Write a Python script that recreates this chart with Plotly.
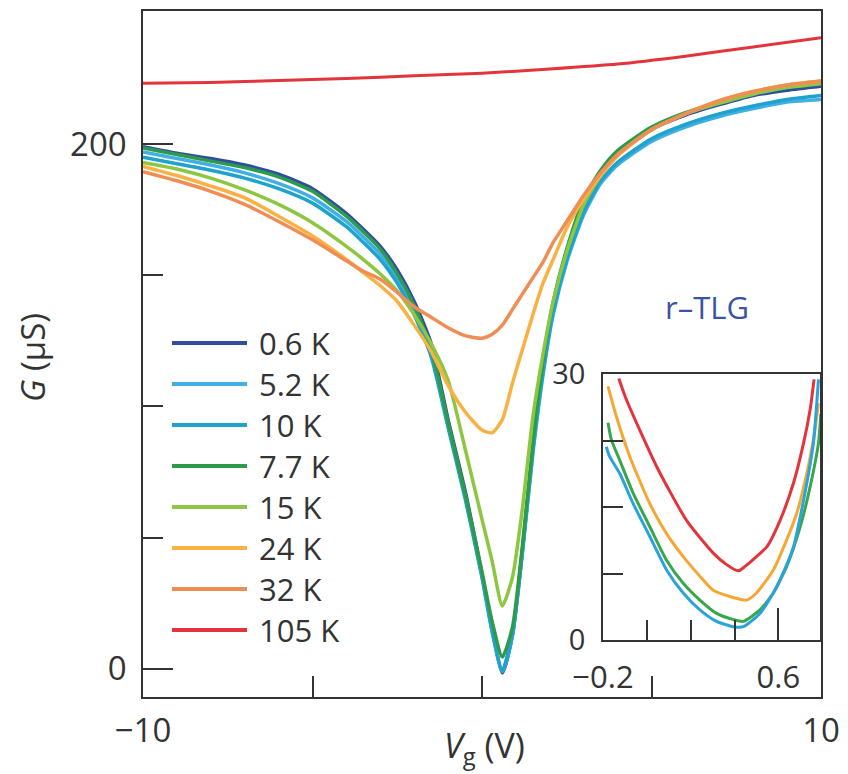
import plotly.graph_objects as go

# ---------------- data ----------------
V = [-10, -9, -8, -7, -6, -5, -4, -3.5, -3, -2.5, -2, -1.5, -1, -0.5, 0, 0.3, 0.6,
     0.9, 1.2, 1.5, 1.8, 2.1, 2.5, 3, 3.5, 4, 5, 6, 7, 8, 9, 10]

G_0p6 = [199, 196.5, 194.5, 192, 188.5, 183, 173.5, 167.5, 161, 152, 140, 124, 95, 68, 36, 15, -1.5,
         13, 46, 84, 115, 138, 158, 177, 188, 196, 205.5, 211, 215, 218.5, 220.5, 222]
G_5p2 = [197, 194.5, 192, 189, 185, 179.5, 170.5, 164.5, 158, 149, 137, 121, 93, 66, 35, 14, -1,
         13, 45, 82, 112, 135, 155, 173, 185, 192, 201, 206.5, 210.5, 213.5, 216, 217]
G_10 = [195, 192.5, 190, 187, 183, 177.5, 168.5, 162.5, 156, 147, 135, 119, 92, 65, 35, 14.5, -0.5,
        13.5, 46, 83, 113, 136, 156, 174, 186, 193, 202, 207.5, 211.5, 214.5, 217, 218.5]
G_7p7 = [198.5, 196, 193.5, 191, 187.5, 182, 172.5, 166.5, 160, 150.5, 138.5, 122, 94, 67, 37, 18, 4.5,
         16, 48, 86, 117, 140, 160, 179, 190, 197.5, 206.5, 212, 216, 219.5, 222, 223.5]
G_15 = [193, 190.5, 187, 182.5, 177, 170, 161, 156, 150.5, 144, 135, 124, 110, 84, 57, 41, 24,
        35, 62, 96, 120, 140, 159, 177, 188, 196, 205.5, 211.5, 215.5, 219, 221.5, 223]
G_24 = [191.5, 188, 184, 179.5, 172.5, 165, 156, 151, 146, 140, 131, 121, 108, 98, 91, 90, 95,
        109, 122, 135, 147, 156, 168, 179, 188, 195.5, 205.5, 211.5, 216.5, 220, 222.5, 224]
G_32 = [189.5, 186, 182, 177, 170.5, 163.5, 155.5, 151.5, 148.5, 143.5, 138, 134, 130, 127, 126, 127.5, 131,
        137, 143, 149, 155, 162.5, 170.5, 180.5, 189, 196, 205.5, 211.5, 216.5, 220, 222.5, 224]

V_105 = [-10, -8, -6, -4, -2, 0, 2, 4, 6, 8, 10]
G_105 = [223.2, 223.5, 224.2, 225, 226, 227, 228.6, 230.5, 233.5, 237, 240.5]

labels = ["0.6 K", "5.2 K", "10 K", "7.7 K", "15 K", "24 K", "32 K", "105 K"]
colors = ["#2f4ea0", "#3fb0e6", "#1fa3cc", "#2e9b4b", "#8dc641", "#f9b143", "#f08d55", "#e3343b"]

# inset (Vg in V, G in uS)
IN_RED_V = [-0.128, -0.093, 0.044, 0.181, 0.303, 0.364, 0.417, 0.448, 0.50, 0.547, 0.608, 0.669, 0.715, 0.745, 0.763]
IN_RED_G = [29.5, 27.1, 19.6, 13.5, 9.8, 8.5, 7.8, 8.3, 9.4, 10.5, 13.5, 17.7, 22.2, 26.0, 29.4]
IN_ORA_V = [-0.177, -0.139, -0.078, 0.013, 0.09, 0.166, 0.242, 0.303, 0.379, 0.455, 0.50, 0.577, 0.638, 0.684, 0.73, 0.76, 0.783]
IN_ORA_G = [28.6, 25.2, 20.7, 15.4, 12.0, 9.4, 7.2, 5.6, 4.9, 4.5, 5.3, 7.9, 11.3, 14.3, 18.8, 22.6, 26.7]
IN_GRN_V = [-0.177, -0.162, -0.124, -0.063, 0.013, 0.09, 0.166, 0.242, 0.318, 0.395, 0.44, 0.516, 0.577, 0.638, 0.70, 0.745, 0.783, 0.794]
IN_GRN_G = [24.5, 22.6, 20.3, 16.6, 12.8, 9.0, 6.4, 4.5, 3.0, 2.3, 2.1, 3.4, 5.3, 8.3, 12.8, 17.3, 22.2, 25.5]
IN_BLU_V = [-0.185, -0.17, -0.124, -0.063, 0.013, 0.09, 0.166, 0.242, 0.318, 0.395, 0.44, 0.516, 0.577, 0.608, 0.669, 0.70, 0.73, 0.76, 0.783]
IN_BLU_G = [21.8, 20.7, 18.8, 15.4, 11.7, 7.9, 5.3, 3.4, 2.1, 1.5, 1.5, 3.0, 5.3, 6.8, 10.5, 13.9, 17.7, 22.2, 29.4]
inset_colors = ["#e3343b", "#f6a733", "#3aa64c", "#2aa3dc"]

# ---------------- figure ----------------
W, H = 848, 774
L, R, T, B = 143, 27, 11, 77
FONT = "Open Sans"
TXT = "#333333"


def pxx(px):
    return (px - L) / (W - L - R)


def pxy(py):
    return (H - B - py) / (H - T - B)


fig = go.Figure()
main_series = [G_0p6, G_5p2, G_10, G_7p7, G_15, G_24, G_32]
for g, name, c in zip(main_series, labels[:7], colors[:7]):
    fig.add_trace(go.Scatter(x=V, y=g, mode="lines", name=name,
                             line=dict(color=c, width=3.5, shape="spline", smoothing=0.6),
                             showlegend=False))
fig.add_trace(go.Scatter(x=V_105, y=G_105, mode="lines", name=labels[7],
                         line=dict(color=colors[7], width=3, shape="spline", smoothing=0.6),
                         showlegend=False))

for xs, ys, c in zip([IN_RED_V, IN_ORA_V, IN_GRN_V, IN_BLU_V],
                     [IN_RED_G, IN_ORA_G, IN_GRN_G, IN_BLU_G], inset_colors):
    fig.add_trace(go.Scatter(x=xs, y=ys, mode="lines", xaxis="x2", yaxis="y2",
                             line=dict(color=c, width=3, shape="spline", smoothing=0.6),
                             showlegend=False))

TICKFONT = dict(family=FONT, size=33, color=TXT)
axis_common = dict(showline=True, mirror=True, linecolor=TXT, linewidth=1.5,
                   ticks="inside", tickcolor=TXT, tickwidth=1.5, showgrid=False,
                   zeroline=False, automargin=False)
minor_common = dict(ticks="inside", tickcolor=TXT, tickwidth=1.5)

fig.update_layout(
    width=W, height=H,
    margin=dict(l=L, r=R, t=T, b=B, pad=0, autoexpand=False),
    paper_bgcolor="white", plot_bgcolor="white",
    font=dict(family=FONT, color=TXT),
    xaxis=dict(domain=[0, 1], range=[-10, 10], tickmode="array",
               tickvals=[-10, 10], ticktext=["\u221210", "10"], ticklen=26,
               minor=dict(tickvals=[-5, 0, 5], ticklen=21, **minor_common),
               ticklabelstandoff=4, tickfont=TICKFONT, **axis_common),
    yaxis=dict(domain=[0, 1], range=[-10.7, 250.7], tickmode="array",
               tickvals=[0, 200], ticktext=["0", "200"], ticklen=30,
               minor=dict(tickvals=[50, 100, 150], ticklen=20, **minor_common),
               ticklabelstandoff=8, tickfont=TICKFONT, **axis_common),
    xaxis2=dict(domain=[pxx(603), pxx(820)], anchor="y2", range=[-0.2, 0.79],
                tickmode="array", tickvals=[-0.2, 0.6], ticktext=["\u22120.2", "0.6"],
                ticklen=32,
                minor=dict(tickvals=[0, 0.2, 0.4], ticklen=20, **minor_common),
                ticklabelstandoff=9, tickfont=dict(family=FONT, size=31, color=TXT),
                **axis_common),
    yaxis2=dict(domain=[pxy(640), pxy(374)], anchor="x2", range=[0, 30],
                tickmode="array", tickvals=[0, 30], ticktext=["0", "30"], ticklen=20,
                minor=dict(tickvals=[7.5, 15, 22.5], ticklen=20, **minor_common),
                ticklabelstandoff=10, tickfont=dict(family=FONT, size=29, color=TXT),
                **axis_common),
)

# custom legend (long line samples as in the reference)
LEG_X0, LEG_X1, LEG_TX, LEG_Y0, LEG_DY = 172, 247, 257, 343, 41
shapes = []
annotations = []
for i, (name, c) in enumerate(zip(labels, colors)):
    yy = pxy(LEG_Y0 + LEG_DY * i)
    shapes.append(dict(type="line", xref="paper", yref="paper",
                       x0=pxx(LEG_X0), x1=pxx(LEG_X1), y0=yy, y1=yy,
                       line=dict(color=c, width=4)))
    annotations.append(dict(xref="paper", yref="paper", x=pxx(LEG_TX), y=yy,
                            text=name, showarrow=False, xanchor="left", yanchor="middle",
                            font=dict(family=FONT, size=31, color=TXT)))

annotations.append(dict(xref="paper", yref="paper", x=pxx(707), y=pxy(307),
                        text="r\u2013TLG", showarrow=False, xanchor="center", yanchor="middle",
                        font=dict(family=FONT, size=31, color="#3a53a4")))
annotations.append(dict(xref="paper", yref="paper", x=pxx(484), y=pxy(747),
                        text="<i>V</i><sub>g</sub> (V)", showarrow=False,
                        xanchor="center", yanchor="middle",
                        font=dict(family=FONT, size=34, color=TXT)))
annotations.append(dict(xref="paper", yref="paper", x=pxx(33), y=pxy(357),
                        text="<i>G</i> (\u00b5S)", showarrow=False, textangle=-90,
                        xanchor="center", yanchor="middle",
                        font=dict(family=FONT, size=33, color=TXT)))

fig.update_layout(shapes=shapes, annotations=annotations)

fig.write_html("out.html")
